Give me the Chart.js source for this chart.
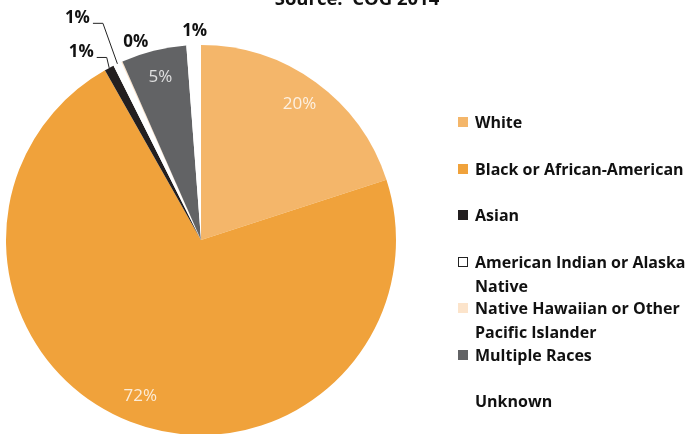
<!DOCTYPE html>
<html lang="en">
<head>
    <meta charset="UTF-8">
    <title>Race breakdown - Source: COG 2014</title>
    <script src="https://cdn.jsdelivr.net/npm/chart.js"></script>
    <style>
        html, body { margin: 0; padding: 0; background: #fff; overflow: hidden; }
        #wrap { position: relative; width: 691px; height: 434px; overflow: hidden; font-family: "Open Sans", sans-serif; }
        #box { position: absolute; left: 0; top: 0; width: 691px; height: 440px; }
        #title { position: absolute; left: 237px; width: 240px; top: -13px; line-height: 22px; text-align: center; font-weight: bold; font-size: 18.5px; color: #111; }
        .item { position: absolute; left: 458px; width: 240px; font-weight: bold; font-size: 16px; line-height: 24px; color: #111; }
        .item .sw { position: absolute; left: 0; top: 7px; width: 10px; height: 10px; box-sizing: border-box; }
        .item .tx { position: absolute; left: 17px; width: 218px; }
    </style>
</head>
<body>
<div id="wrap">
    <div id="box"><canvas id="raceChart" width="691" height="440"></canvas></div>
    <div id="title">Source:&nbsp; COG 2014</div>
    <div id="legend"></div>
</div>

<script>
    // data (percent of total)
    const categories = ['White', 'Black or African-American', 'Asian', 'American Indian or Alaska Native',
        'Native Hawaiian or Other Pacific Islander', 'Multiple Races', 'Unknown'];
    const shares = [20.0, 71.8, 0.8, 0.7, 0.1, 5.4, 1.2];

    const colors = ['#F4B66A', '#F0A23B', '#231F20', '#FFFFFF', '#FCE4CB', '#626365', '#FFFFFF'];
    const legendBorders = ['none', 'none', 'none', '1px solid #222', 'none', 'none', 'none'];

    // where each percent label goes: inside the slice, or outside (dx/dy from the slice edge)
    const labelPlace = [
        { inside: true },
        { inside: true },
        { dx: -28, dy: -16, leader: true },
        { dx: -40, dy: -46, leader: true },
        { dx: 14, dy: -20 },
        { inside: true },
        { dx: 1, dy: -14 }
    ];

    // legend, one slot per category
    const legend = document.getElementById('legend');
    categories.forEach((name, i) => {
        const d = document.createElement('div');
        d.className = 'item';
        d.style.top = (110 + i * 46.5) + 'px';
        const sw = document.createElement('span');
        sw.className = 'sw';
        sw.style.background = colors[i];
        sw.style.border = legendBorders[i];
        const tx = document.createElement('span');
        tx.className = 'tx';
        tx.textContent = name;
        d.appendChild(sw);
        d.appendChild(tx);
        legend.appendChild(d);
    });

    const pctLabels = {
        id: 'pctLabels',
        afterDatasetsDraw(chart) {
            const ctx = chart.ctx;
            const meta = chart.getDatasetMeta(0);
            const vals = chart.data.datasets[0].data;
            ctx.save();
            ctx.textAlign = 'center';
            ctx.textBaseline = 'middle';
            meta.data.forEach((arc, i) => {
                const txt = Math.round(vals[i]) + '%';
                const mid = (arc.startAngle + arc.endAngle) / 2;
                const p = labelPlace[i];
                if (p.inside) {
                    const r = arc.outerRadius * 0.86;
                    ctx.font = '17px "Open Sans", sans-serif';
                    ctx.fillStyle = 'rgba(255,255,255,0.8)';
                    ctx.fillText(txt, arc.x + r * Math.cos(mid), arc.y + r * Math.sin(mid));
                    return;
                }
                const ax = arc.x + arc.outerRadius * Math.cos(mid);
                const ay = arc.y + arc.outerRadius * Math.sin(mid);
                const lx = ax + p.dx, ly = ay + p.dy;
                ctx.font = 'bold 17px "Open Sans", sans-serif';
                ctx.fillStyle = '#111';
                ctx.fillText(txt, lx, ly);
                if (p.leader) {
                    const right = lx + ctx.measureText(txt).width / 2;
                    ctx.strokeStyle = '#222';
                    ctx.lineWidth = 1;
                    ctx.beginPath();
                    ctx.moveTo(right + 3, ly + 5.5);
                    ctx.lineTo(right + 13, ly + 5.5);
                    ctx.lineTo(ax, ay);
                    ctx.stroke();
                }
            });
            ctx.restore();
        }
    };

    const ctx = document.getElementById('raceChart').getContext('2d');
    new Chart(ctx, {
        type: 'pie',
        data: {
            labels: categories,
            datasets: [{
                data: shares,
                backgroundColor: colors,
                borderWidth: 0
            }]
        },
        options: {
            responsive: false,
            animation: false,
            layout: { padding: { left: 6, right: 295, top: 45, bottom: 5 } },
            plugins: {
                legend: { display: false },
                tooltip: { enabled: false }
            }
        },
        plugins: [pctLabels]
    });
</script>
</body>
</html>
